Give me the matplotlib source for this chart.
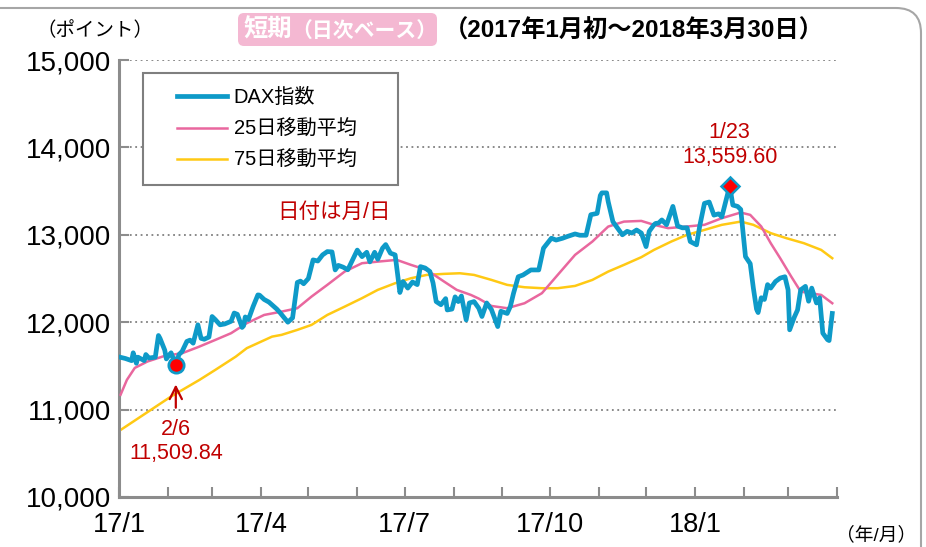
import matplotlib
matplotlib.use('Agg')
import matplotlib.pyplot as plt
import matplotlib.dates as mdates
import matplotlib.patches as mpatches
from matplotlib.legend_handler import HandlerLine2D
import pandas as pd

plt.rcParams['font.family'] = ['Liberation Sans', 'Noto Sans CJK JP']

# DAX daily
dax_dates = ['2017-01-02', '2017-01-05', '2017-01-09', '2017-01-10', '2017-01-12', '2017-01-13',
             '2017-01-17', '2017-01-18', '2017-01-20', '2017-01-24', '2017-01-26', '2017-01-27',
             '2017-01-30', '2017-01-31', '2017-02-02', '2017-02-03', '2017-02-06', '2017-02-08',
             '2017-02-10', '2017-02-13', '2017-02-15', '2017-02-17', '2017-02-20', '2017-02-22',
             '2017-02-24', '2017-02-27', '2017-03-01', '2017-03-03', '2017-03-06', '2017-03-09',
             '2017-03-13', '2017-03-15', '2017-03-17', '2017-03-20', '2017-03-21', '2017-03-22',
             '2017-03-24', '2017-03-27', '2017-03-30', '2017-03-31', '2017-04-03', '2017-04-06',
             '2017-04-11', '2017-04-13', '2017-04-18', '2017-04-21', '2017-04-24', '2017-04-26',
             '2017-04-28', '2017-05-01', '2017-05-04', '2017-05-07', '2017-05-10', '2017-05-13',
             '2017-05-16', '2017-05-18', '2017-05-20', '2017-05-23', '2017-05-26', '2017-06-01',
             '2017-06-04', '2017-06-07', '2017-06-09', '2017-06-12', '2017-06-14', '2017-06-17',
             '2017-06-19', '2017-06-22', '2017-06-25', '2017-06-28', '2017-06-30', '2017-07-03',
             '2017-07-06', '2017-07-09', '2017-07-11', '2017-07-14', '2017-07-17', '2017-07-19',
             '2017-07-21', '2017-07-24', '2017-07-27', '2017-07-28', '2017-07-31', '2017-08-02',
             '2017-08-04', '2017-08-06', '2017-08-09', '2017-08-11', '2017-08-14', '2017-08-17',
             '2017-08-19', '2017-08-22', '2017-08-25', '2017-08-29', '2017-08-31', '2017-09-04',
             '2017-09-06', '2017-09-08', '2017-09-11', '2017-09-14', '2017-09-19', '2017-09-24',
             '2017-09-27', '2017-10-02', '2017-10-05', '2017-10-09', '2017-10-12', '2017-10-17',
             '2017-10-20', '2017-10-24', '2017-10-27', '2017-10-31', '2017-11-02', '2017-11-03',
             '2017-11-06', '2017-11-07', '2017-11-10', '2017-11-13', '2017-11-16', '2017-11-19',
             '2017-11-22', '2017-11-25', '2017-11-28', '2017-12-01', '2017-12-03', '2017-12-06',
             '2017-12-07', '2017-12-09', '2017-12-11', '2017-12-14', '2017-12-18', '2017-12-21',
             '2017-12-24', '2017-12-27', '2017-12-29', '2018-01-02', '2018-01-04', '2018-01-07',
             '2018-01-10', '2018-01-13', '2018-01-16', '2018-01-18', '2018-01-21', '2018-01-23',
             '2018-01-25', '2018-01-28', '2018-01-30', '2018-02-02', '2018-02-05', '2018-02-07',
             '2018-02-09', '2018-02-10', '2018-02-12', '2018-02-14', '2018-02-16', '2018-02-18',
             '2018-02-21', '2018-02-24', '2018-02-27', '2018-03-01', '2018-03-02', '2018-03-05',
             '2018-03-07', '2018-03-09', '2018-03-12', '2018-03-14', '2018-03-16', '2018-03-19',
             '2018-03-21', '2018-03-23', '2018-03-26', '2018-03-27', '2018-03-29']
dax_values = [11598, 11585, 11560, 11650, 11530, 11600,
              11560, 11630, 11590, 11600, 11848, 11815,
              11680, 11580, 11630, 11650, 11510, 11630,
              11666, 11780, 11795, 11760, 11970, 11815,
              11805, 11830, 12065, 12030, 11970, 11980,
              12010, 12105, 12090, 11940, 11960, 12060,
              12030, 12180, 12312, 12310, 12260, 12230,
              12150, 12110, 12000, 12050, 12455, 12470,
              12440, 12500, 12713, 12700, 12770, 12808,
              12804, 12598, 12650, 12630, 12600, 12825,
              12750, 12800, 12690, 12800, 12720, 12847,
              12888, 12790, 12770, 12340, 12465, 12390,
              12460, 12430, 12636, 12620, 12580, 12450,
              12236, 12200, 12270, 12140, 12150, 12290,
              12236, 12300, 12026, 12220, 12236, 12160,
              12065, 12220, 12145, 11950, 12125, 12100,
              12180, 12330, 12520, 12540, 12598, 12598,
              12847, 12961, 12940, 12960, 12980, 13010,
              12995, 12995, 13230, 13245, 13450, 13480,
              13480, 13380, 13150, 13075, 13000, 13040,
              13020, 13055, 13020, 12865, 13040, 13114,
              13130, 13135, 13170, 13115, 13325, 13100,
              13080, 13080, 12923, 12885, 13100, 13360,
              13375, 13225, 13240, 13205, 13415, 13559.6,
              13340, 13325, 13290, 12750, 12670, 12390,
              12150, 12110, 12280, 12260, 12430, 12390,
              12465, 12505, 12520, 12370, 11913, 12060,
              12140, 12370, 12410, 12240, 12390, 12220,
              12280, 11875, 11800, 11790, 12100]

ma25_dates = ['2017-01-02', '2017-01-06', '2017-01-11', '2017-01-19', '2017-01-30', '2017-02-10',
              '2017-02-20', '2017-03-03', '2017-03-13', '2017-03-23', '2017-04-03', '2017-04-14',
              '2017-04-24', '2017-05-03', '2017-05-13', '2017-05-24', '2017-06-04', '2017-06-14',
              '2017-06-26', '2017-07-05', '2017-07-15', '2017-07-26', '2017-08-03', '2017-08-12',
              '2017-08-17', '2017-08-25', '2017-09-04', '2017-09-15', '2017-09-26', '2017-10-06',
              '2017-10-17', '2017-10-28', '2017-11-07', '2017-11-17', '2017-11-28', '2017-12-06',
              '2017-12-15', '2017-12-27', '2018-01-07', '2018-01-18', '2018-01-30', '2018-02-05',
              '2018-02-12', '2018-02-18', '2018-02-24', '2018-03-03', '2018-03-09', '2018-03-15',
              '2018-03-22', '2018-03-29']
ma25_values = [11170, 11340, 11477, 11550, 11615, 11645,
               11714, 11797, 11874, 11989, 12083, 12121,
               12160, 12293, 12427, 12579, 12675, 12693,
               12713, 12656, 12598, 12465, 12370, 12312,
               12270, 12186, 12160, 12217, 12332, 12541,
               12770, 12923, 13094, 13151, 13159, 13114,
               13076, 13095, 13114, 13190, 13255, 13228,
               13095, 12904, 12732, 12522, 12350, 12332,
               12312, 12217]

ma75_dates = ['2017-01-02', '2017-02-03', '2017-02-21', '2017-03-03', '2017-03-16', '2017-03-23',
              '2017-04-08', '2017-04-14', '2017-04-24', '2017-05-03', '2017-05-13', '2017-05-24',
              '2017-06-04', '2017-06-14', '2017-06-25', '2017-07-05', '2017-07-15', '2017-07-26',
              '2017-08-05', '2017-08-14', '2017-08-25', '2017-09-04', '2017-09-15', '2017-09-26',
              '2017-10-06', '2017-10-17', '2017-10-28', '2017-11-07', '2017-11-17', '2017-11-28',
              '2017-12-06', '2017-12-17', '2017-12-27', '2018-01-07', '2018-01-18', '2018-01-30',
              '2018-02-07', '2018-02-18', '2018-02-28', '2018-03-11', '2018-03-22', '2018-03-29']
ma75_values = [10767, 11150, 11340, 11454, 11606, 11703,
               11835, 11855, 11912, 11969, 12083, 12178,
               12275, 12370, 12446, 12503, 12541, 12553,
               12560, 12541, 12484, 12427, 12400, 12389,
               12389, 12415, 12484, 12579, 12656, 12744,
               12827, 12923, 13000, 13056, 13114, 13151,
               13114, 13019, 12961, 12904, 12827, 12732]

low_date, low_value = '2017-02-06', 11509.84
high_date, high_value = '2018-01-23', 13559.60

xtick_dates = ['2017-01-01', '2017-04-01', '2017-07-01', '2017-10-01', '2018-01-01']
xtick_labels = ['17/1', '17/4', '17/7', '17/10', '18/1']
yticks = [10000, 11000, 12000, 13000, 14000, 15000]

blue = '#0E9AC8'
pink = '#E9679E'
yellow = '#FFC914'
dark_red = '#C00000'
gray = '#8C8C8C'


class InsetLine(HandlerLine2D):
    # legend line drawn only over the right part of the handle box
    def get_xdata(self, legend, xdescent, ydescent, width, height, fontsize):
        x0 = -xdescent + 0.27 * width
        x1 = width - xdescent
        return [x0, x1], [(x0 + x1) / 2]


W, H = 926, 547
fig = plt.figure(figsize=(W / 100, H / 100), dpi=100)
ax = fig.add_axes([119 / W, 50 / H, 718 / W, 437 / H])

d = pd.to_datetime
ax.plot(d(ma75_dates), ma75_values, color=yellow, lw=1.8, zorder=2, label='75日移動平均')
ax.plot(d(ma25_dates), ma25_values, color=pink, lw=1.8, zorder=3, label='25日移動平均')
ax.plot(d(dax_dates), dax_values, color=blue, lw=3.4, zorder=4, label='DAX指数',
        solid_joinstyle='round')

ax.plot(d([low_date]), [low_value], 'o', ms=11, mfc='#FF0000', mec=blue, mew=2, zorder=6)
ax.plot(d([high_date]), [high_value], 'D', ms=9, mfc='#FF0000', mec=blue, mew=1.8, zorder=6)

ax.annotate('', xy=(d(low_date), 11320), xytext=(d(low_date), 10990),
            arrowprops=dict(arrowstyle='->', color=dark_red, lw=1.6, mutation_scale=22))
ax.text(d(low_date), 10767, '2/6', color=dark_red, fontsize=15.5, ha='center', va='center')
ax.text(d(low_date), 10503, '11,509.84', color=dark_red, fontsize=15.5, ha='center', va='center')
ax.text(d(high_date), 14165, '1/23', color=dark_red, fontsize=15.5, ha='center', va='center')
ax.text(d(high_date), 13890, '13,559.60', color=dark_red, fontsize=15.5, ha='center', va='center')

ax.set_xlim(d('2017-01-01'), d('2018-04-01'))
ax.set_ylim(10000, 15000)
ax.set_xticks(d(xtick_dates))
ax.set_xticklabels(xtick_labels)
ax.xaxis.set_minor_locator(mdates.MonthLocator())
ax.set_yticks(yticks)
ax.set_yticklabels([f'{v:,}' for v in yticks])

for s in ['top', 'right']:
    ax.spines[s].set_visible(False)
for s in ['left', 'bottom']:
    ax.spines[s].set_color(gray)
    ax.spines[s].set_linewidth(2.2)
ax.tick_params(axis='both', which='both', direction='in', length=7, width=1.5, color=gray)
ax.tick_params(axis='x', labelsize=19.5, pad=11)
ax.tick_params(axis='y', labelsize=20, pad=6)
ax.yaxis.grid(True, linestyle=(0, (1, 2)), color='#808080', lw=1.3)
ax.set_axisbelow(True)

handles, labels = ax.get_legend_handles_labels()
order = [2, 1, 0]
leg_x0 = (143 - 119) / 718
leg_w = (398 - 143) / 718
leg_top = (497 - 73) / 437
leg = ax.legend([handles[i] for i in order], [labels[i] for i in order],
                loc='upper left', bbox_to_anchor=(leg_x0, leg_top - 0.3, leg_w, 0.3),
                mode='expand', borderaxespad=0, fontsize=14.5, handlelength=3.4,
                handletextpad=0.35, borderpad=0.75, labelspacing=0.62, fancybox=False,
                framealpha=1, edgecolor='#7F7F7F',
                handler_map={matplotlib.lines.Line2D: InsetLine()})
leg.get_frame().set_linewidth(1.5)

fig.text(334 / W, 1 - 212 / H, '日付は月/日', color=dark_red, fontsize=15.5, ha='center', va='center')
fig.text(36 / W, 1 - 31 / H, '（ポイント）', fontsize=14, ha='left', va='center')
fig.text(836 / W, 1 - 535 / H, '（年/月）', fontsize=13.5, ha='left', va='center')

# title badge
badge = mpatches.FancyBboxPatch((238, H - 46), 199, 33, boxstyle='round,pad=0,rounding_size=6',
                                facecolor='#F4B8D2', edgecolor='none', transform=None)
fig.add_artist(badge)
fig.text(244 / W, 1 - 30 / H, '短期', color='white', fontsize=17.5, fontweight='bold',
         ha='left', va='center')
fig.text(291 / W, 1 - 31 / H, '（日次ベース）', color='white', fontsize=15, fontweight='bold',
         ha='left', va='center')
fig.text(444 / W, 1 - 31 / H, '（2017年1月初～2018年3月30日）', fontsize=17.5, fontweight='bold',
         ha='left', va='center')

frame = mpatches.FancyBboxPatch((-30, -30), 951, 569, boxstyle='round,pad=0,rounding_size=25',
                                facecolor='none', edgecolor='#A6A6A6', lw=1.5, transform=None)
fig.add_artist(frame)

fig.savefig('out.png', dpi=100)
